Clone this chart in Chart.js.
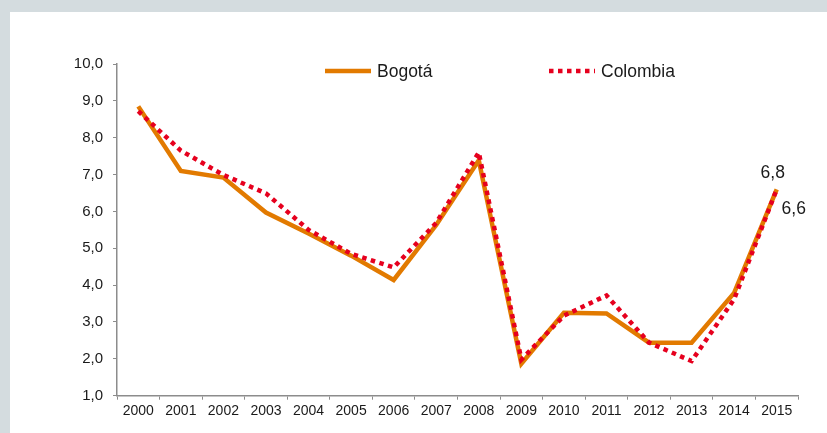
<!DOCTYPE html>
<html>
<head>
<meta charset="utf-8">
<script src="https://cdn.jsdelivr.net/npm/chart.js@4"></script>
<style>
  html, body { margin: 0; padding: 0; }
  body { width: 827px; height: 433px; background: #d4dcdf; position: relative; overflow: hidden; }
  #panel { position: absolute; left: 10px; top: 12px; right: 0; bottom: 0; background: #ffffff; }
  #c { position: absolute; left: 0; top: 0; }
</style>
</head>
<body>
<div id="panel"></div>
<canvas id="c" width="827" height="433"></canvas>
<script>
const years = ['2000','2001','2002','2003','2004','2005','2006','2007','2008','2009','2010','2011','2012','2013','2014','2015'];
const bogota = [8.85, 7.10, 6.92, 5.97, 5.40, 4.80, 4.14, 5.63, 7.39, 1.87, 3.25, 3.23, 2.44, 2.44, 3.79, 6.60];
const colombia = [8.72, 7.65, 6.99, 6.49, 5.50, 4.85, 4.48, 5.69, 7.60, 1.98, 3.17, 3.72, 2.44, 1.94, 3.62, 6.60];
const seriesNames = ['Bogotá', 'Colombia'];
const endLabels = ['6,6', '6,8'];
const yMin = 1, yMax = 10, yStep = 1;

const FONT = '"Liberation Sans", Arial, sans-serif';
const ORANGE = '#E27A00';
const RED = '#E6001E';

const customLegend = {
  id: 'customLegend',
  afterDraw(chart) {
    const ctx = chart.ctx;
    const starts = [325, 549];
    const y = 71;
    chart.data.datasets.forEach((ds, i) => {
      const x0 = starts[i];
      ctx.save();
      ctx.strokeStyle = ds.borderColor;
      ctx.lineWidth = ds.borderWidth;
      ctx.setLineDash(ds.borderDash || []);
      ctx.beginPath();
      ctx.moveTo(x0, y);
      ctx.lineTo(x0 + 46, y);
      ctx.stroke();
      ctx.setLineDash([]);
      ctx.fillStyle = '#1a1a1a';
      ctx.font = '17.5px ' + FONT;
      ctx.textBaseline = 'middle';
      ctx.textAlign = 'left';
      ctx.fillText(ds.label, x0 + 52, y + 1);
      ctx.restore();
    });
  }
};

const endLabelPlugin = {
  id: 'endLabels',
  afterDatasetsDraw(chart) {
    const ctx = chart.ctx;
    const offsets = [[17, 19.5], [-4, -16]];
    chart.data.datasets.forEach((ds, i) => {
      const meta = chart.getDatasetMeta(i);
      const pt = meta.data[meta.data.length - 1];
      ctx.save();
      ctx.fillStyle = '#1a1a1a';
      ctx.font = '17.5px ' + FONT;
      ctx.textAlign = 'center';
      ctx.textBaseline = 'middle';
      ctx.fillText(endLabels[i], pt.x + offsets[i][0], pt.y + offsets[i][1]);
      ctx.restore();
    });
  }
};

new Chart(document.getElementById('c'), {
  type: 'line',
  data: {
    labels: years,
    datasets: [
      {
        label: seriesNames[0],
        data: bogota,
        borderColor: ORANGE,
        backgroundColor: ORANGE,
        borderWidth: 4.5,
        pointRadius: 0,
        tension: 0,
        fill: false,
        order: 2
      },
      {
        label: seriesNames[1],
        data: colombia,
        borderColor: RED,
        backgroundColor: RED,
        borderWidth: 4.5,
        borderDash: [4.5, 4.5],
        pointRadius: 0,
        tension: 0,
        fill: false,
        order: 1
      }
    ]
  },
  options: {
    responsive: false,
    animation: false,
    devicePixelRatio: 1,
    layout: { padding: { left: 0, top: 64, right: 29, bottom: 0 } },
    plugins: {
      legend: { display: false },
      tooltip: { enabled: false }
    },
    scales: {
      x: {
        offset: true,
        grid: { offset: true, drawOnChartArea: false, tickLength: 4, color: '#8c8c8c', lineWidth: 1 },
        border: { color: '#8c8c8c', width: 1.5 },
        ticks: { color: '#1a1a1a', font: { family: FONT, size: 14 }, padding: 3, maxRotation: 0, autoSkip: false },
        afterFit(scale) { scale.height = 37.3; }
      },
      y: {
        min: yMin,
        max: yMax,
        grid: { drawOnChartArea: false, tickLength: 4, color: '#8c8c8c', lineWidth: 1 },
        border: { color: '#8c8c8c', width: 1.5 },
        ticks: {
          stepSize: yStep,
          color: '#1a1a1a',
          font: { family: FONT, size: 15 },
          padding: 10,
          callback: (v) => Number(v).toFixed(1).replace('.', ',')
        },
        afterFit(scale) { scale.width = 117; }
      }
    }
  },
  plugins: [customLegend, endLabelPlugin]
});
</script>
</body>
</html>
